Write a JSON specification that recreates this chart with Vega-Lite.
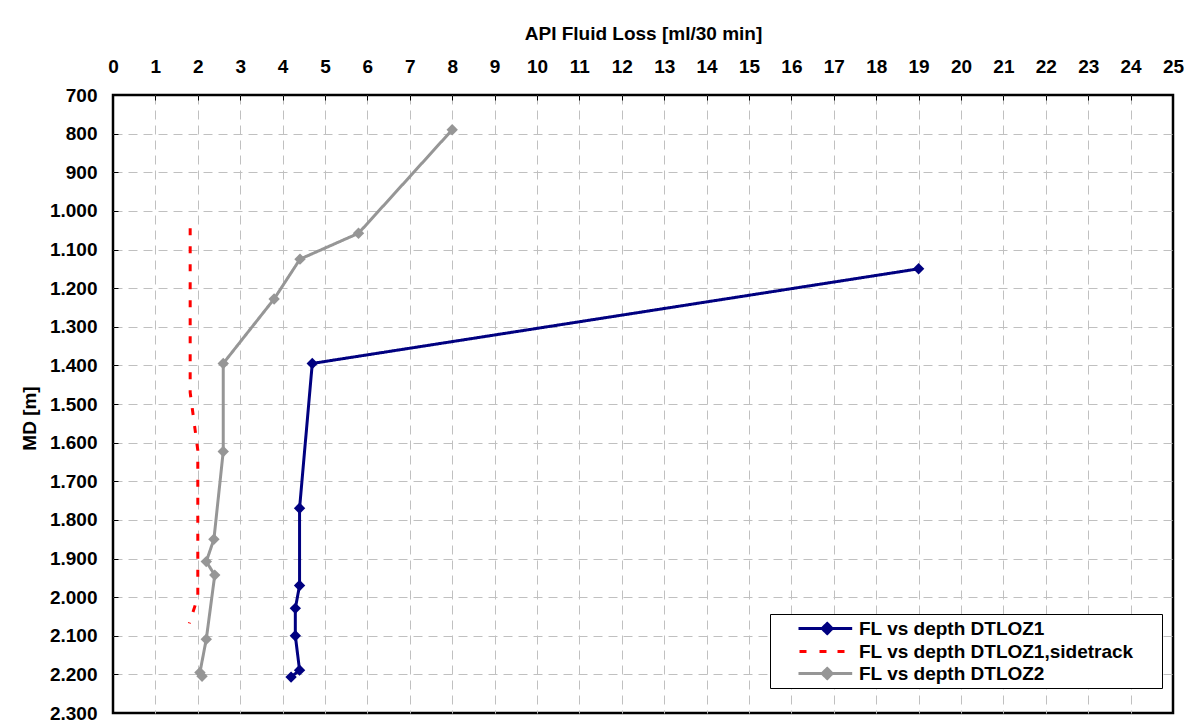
{
  "$schema": "https://vega.github.io/schema/vega-lite/v6.json",
  "width": 1060,
  "height": 618,
  "autosize": {"type": "none"},
  "padding": {"left": 113, "top": 95, "right": 12, "bottom": 9},
  "background": "white",
  "config": {
    "font": "Liberation Sans",
    "view": {"stroke": "black", "strokeWidth": 2.5},
    "axis": {
      "labelFont": "Liberation Sans",
      "labelFontWeight": "bold",
      "labelFontSize": 19,
      "labelColor": "black",
      "labelFlush": false,
      "titleFont": "Liberation Sans",
      "titleFontWeight": "bold",
      "titleFontSize": 19,
      "titleColor": "black",
      "titleBaseline": "middle",
      "domain": false,
      "tickColor": "black",
      "tickSize": -5,
      "tickWidth": 1,
      "gridColor": "#c0c0c0",
      "gridDash": [9, 6],
      "gridWidth": 1
    }
  },
  "data": {
    "values": [
      {"series": "FL vs depth DTLOZ1", "FL": 19.0, "MD": 1150},
      {"series": "FL vs depth DTLOZ1", "FL": 4.7, "MD": 1395},
      {"series": "FL vs depth DTLOZ1", "FL": 4.4, "MD": 1770},
      {"series": "FL vs depth DTLOZ1", "FL": 4.4, "MD": 1970},
      {"series": "FL vs depth DTLOZ1", "FL": 4.3, "MD": 2029},
      {"series": "FL vs depth DTLOZ1", "FL": 4.3, "MD": 2100},
      {"series": "FL vs depth DTLOZ1", "FL": 4.4, "MD": 2189},
      {"series": "FL vs depth DTLOZ1", "FL": 4.2, "MD": 2207},
      {"series": "FL vs depth DTLOZ1,sidetrack", "FL": 1.82, "MD": 1045},
      {"series": "FL vs depth DTLOZ1,sidetrack", "FL": 1.82, "MD": 1470},
      {"series": "FL vs depth DTLOZ1,sidetrack", "FL": 2.0, "MD": 1620},
      {"series": "FL vs depth DTLOZ1,sidetrack", "FL": 2.0, "MD": 2000},
      {"series": "FL vs depth DTLOZ1,sidetrack", "FL": 1.8, "MD": 2068},
      {"series": "FL vs depth DTLOZ2", "FL": 8.0, "MD": 790},
      {"series": "FL vs depth DTLOZ2", "FL": 5.79, "MD": 1058},
      {"series": "FL vs depth DTLOZ2", "FL": 4.41, "MD": 1125},
      {"series": "FL vs depth DTLOZ2", "FL": 3.8, "MD": 1228},
      {"series": "FL vs depth DTLOZ2", "FL": 2.6, "MD": 1395},
      {"series": "FL vs depth DTLOZ2", "FL": 2.6, "MD": 1623},
      {"series": "FL vs depth DTLOZ2", "FL": 2.38, "MD": 1850},
      {"series": "FL vs depth DTLOZ2", "FL": 2.2, "MD": 1908},
      {"series": "FL vs depth DTLOZ2", "FL": 2.4, "MD": 1943},
      {"series": "FL vs depth DTLOZ2", "FL": 2.2, "MD": 2109},
      {"series": "FL vs depth DTLOZ2", "FL": 2.05, "MD": 2195},
      {"series": "FL vs depth DTLOZ2", "FL": 2.1, "MD": 2205}
    ]
  },
  "encoding": {
    "x": {
      "field": "FL",
      "type": "quantitative",
      "scale": {"domain": [0, 25], "nice": false, "zero": false},
      "axis": {
        "orient": "top",
        "title": "API Fluid Loss [ml/30 min]",
        "values": [0, 1, 2, 3, 4, 5, 6, 7, 8, 9, 10, 11, 12, 13, 14, 15, 16, 17, 18, 19, 20, 21, 22, 23, 24, 25],
        "labelPadding": 23.5,
        "titleX": 530,
        "titleY": -62,
        "gridOpacity": {"condition": {"test": "datum.value == 0 || datum.value == 25", "value": 0}, "value": 1}
      }
    },
    "y": {
      "field": "MD",
      "type": "quantitative",
      "scale": {"domain": [700, 2300], "reverse": true, "nice": false, "zero": false},
      "axis": {
        "title": "MD [m]",
        "values": [700, 800, 900, 1000, 1100, 1200, 1300, 1400, 1500, 1600, 1700, 1800, 1900, 2000, 2100, 2200, 2300],
        "labelExpr": "replace(format(datum.value, ','), ',', '.')",
        "labelPadding": 21,
        "titleX": -84,
        "titleY": 323,
        "gridOpacity": {"condition": {"test": "datum.value == 700 || datum.value == 2300", "value": 0}, "value": 1}
      }
    }
  },
  "layer": [
    {
      "mark": {"type": "line", "strokeWidth": 3, "clip": false},
      "encoding": {
        "color": {
          "field": "series",
          "type": "nominal",
          "scale": {
            "domain": ["FL vs depth DTLOZ1", "FL vs depth DTLOZ1,sidetrack", "FL vs depth DTLOZ2"],
            "range": ["#000080", "#ff0000", "#969696"]
          },
          "legend": {
            "title": null,
            "orient": "none",
            "legendX": 657,
            "legendY": 519,
            "padding": 3,
            "fillColor": "white",
            "strokeColor": "black",
            "labelFont": "Liberation Sans",
            "labelFontWeight": "bold",
            "labelFontSize": 19,
            "labelColor": "black",
            "labelLimit": 450,
            "labelOffset": 63,
            "symbolSize": 400,
            "rowPadding": 0,
            "encode": {
              "symbols": {
                "update": {
                  "shape": {"signal": "indexof(datum.value, 'sidetrack') >= 0 ? 'M1.5,0H2.3M3.5,0H4.3M5.3,0H6.1M36.8,0' : 'M1.4,0H6.77M3.77,0L4.27,-0.5L4.77,0L4.27,0.5ZM36.8,0'"},
                  "fill": {"signal": "indexof(datum.value, 'sidetrack') >= 0 ? 'transparent' : scale('color', datum.value)"},
                  "stroke": {"signal": "scale('color', datum.value)"},
                  "strokeWidth": {"value": 3},
                  "strokeDash": {"value": [1, 0]},
                  "opacity": {"value": 1}
                }
              }
            }
          }
        },
        "strokeDash": {
          "field": "series",
          "type": "nominal",
          "scale": {
            "domain": ["FL vs depth DTLOZ1", "FL vs depth DTLOZ1,sidetrack", "FL vs depth DTLOZ2"],
            "range": [[1, 0], [7, 11], [1, 0]]
          },
          "legend": null
        },
        "order": {"field": "MD", "type": "quantitative"}
      }
    },
    {
      "transform": [{"filter": "datum.series != 'FL vs depth DTLOZ1,sidetrack'"}],
      "mark": {"type": "point", "shape": "diamond", "filled": true, "size": 130, "opacity": 1, "clip": false},
      "encoding": {
        "color": {"field": "series", "type": "nominal"}
      }
    }
  ]
}
